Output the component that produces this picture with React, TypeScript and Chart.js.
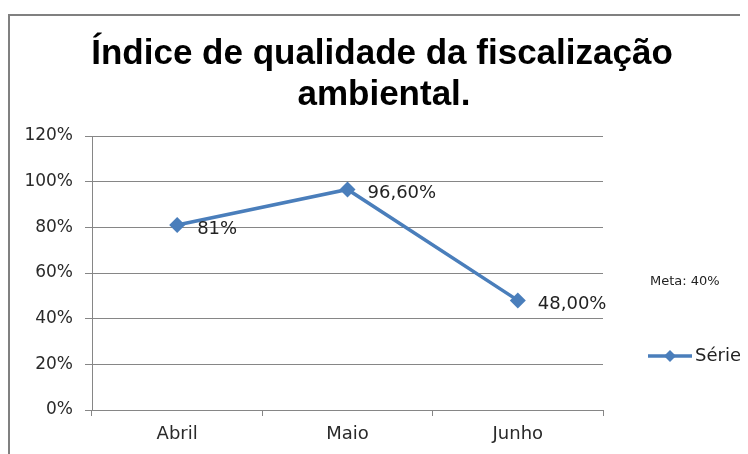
import React, { useEffect, useRef } from "react";
import { Chart, registerables } from "chart.js";

Chart.register(...registerables);

const categories = ["Abril", "Maio", "Junho"];
const values = [0.81, 0.966, 0.48];
const valueLabels = ["81%", "96,60%", "48,00%"];
const seriesName = "Série1";
const titleLines = ["Índice de qualidade da fiscalização", "ambiental."];
const metaText = "Meta: 40%";

const BLUE = "#4a7ebb";
const GRID = "#868686";
const FONT = "'DejaVu Sans', sans-serif";

export default function App() {
  const ref = useRef<HTMLCanvasElement | null>(null);

  useEffect(() => {
    if (!ref.current) return;
    const decor = {
      id: "decor",
      beforeDraw(chart: any) {
        const ctx = chart.ctx;
        ctx.save();
        ctx.fillStyle = "#ffffff";
        ctx.fillRect(0, 0, chart.width, chart.height);
        ctx.strokeStyle = "#808080";
        ctx.lineWidth = 2;
        ctx.beginPath();
        ctx.moveTo(1, chart.height);
        ctx.lineTo(1, 7);
        ctx.lineTo(chart.width, 7);
        ctx.stroke();
        ctx.restore();
      },
      afterDraw(chart: any) {
        const ctx = chart.ctx;
        ctx.save();
        // title
        ctx.fillStyle = "#000000";
        ctx.font = "bold 35px 'Liberation Sans', sans-serif";
        ctx.textAlign = "center";
        ctx.textBaseline = "alphabetic";
        ctx.fillText(titleLines[0], 374, 56);
        ctx.fillText(titleLines[1], 376, 97);
        // meta
        ctx.font = "13px " + FONT;
        ctx.fillStyle = "#222222";
        ctx.textAlign = "left";
        ctx.textBaseline = "middle";
        ctx.fillText(metaText, 642, 274);
        // legend
        const ly = 348;
        ctx.strokeStyle = BLUE;
        ctx.lineWidth = 3.5;
        ctx.beginPath();
        ctx.moveTo(640, ly);
        ctx.lineTo(684, ly);
        ctx.stroke();
        ctx.fillStyle = BLUE;
        ctx.beginPath();
        ctx.moveTo(662, ly - 6);
        ctx.lineTo(668, ly);
        ctx.lineTo(662, ly + 6);
        ctx.lineTo(656, ly);
        ctx.closePath();
        ctx.fill();
        ctx.fillStyle = "#222222";
        ctx.font = "18px " + FONT;
        ctx.fillText(seriesName, 687, ly);
        ctx.restore();
      },
      afterDatasetsDraw(chart: any) {
        const ctx = chart.ctx;
        const meta = chart.getDatasetMeta(0);
        ctx.save();
        ctx.fillStyle = "#222222";
        ctx.font = "18px " + FONT;
        ctx.textAlign = "left";
        ctx.textBaseline = "middle";
        meta.data.forEach((pt: any, i: number) => {
          ctx.fillText(valueLabels[i], pt.x + 20, pt.y + 4);
        });
        ctx.restore();
      },
    };

    const chart = new Chart(ref.current, {
      type: "line",
      data: {
        labels: categories,
        datasets: [
          {
            label: seriesName,
            data: values,
            borderColor: BLUE,
            backgroundColor: BLUE,
            borderWidth: 3.5,
            tension: 0,
            pointStyle: "rectRot",
            pointRadius: 8,
            pointHoverRadius: 8,
            pointBackgroundColor: BLUE,
            pointBorderColor: BLUE,
            pointBorderWidth: 0,
          },
        ],
      },
      options: {
        responsive: false,
        animation: false,
        layout: { padding: { left: 0, right: 145, top: 128, bottom: 0 } },
        plugins: {
          legend: { display: false },
          title: { display: false },
          tooltip: { enabled: false },
        },
        scales: {
          x: {
            type: "category",
            offset: true,
            afterFit: (s: any) => {
              s.height = 44;
            },
            grid: {
              offset: true,
              drawOnChartArea: false,
              drawTicks: true,
              tickLength: 6,
              color: GRID,
            },
            border: { display: true, color: GRID, width: 1 },
            ticks: {
              padding: 8,
              color: "#2a2a2a",
              font: { family: FONT, size: 18 },
            },
          },
          y: {
            min: 0,
            max: 1.2,
            afterFit: (s: any) => {
              s.width = 84;
            },
            grid: {
              color: GRID,
              tickLength: 7,
              drawTicks: true,
            },
            border: { display: true, color: GRID, width: 1 },
            ticks: {
              stepSize: 0.2,
              padding: 12,
              color: "#2a2a2a",
              font: { family: FONT, size: 17 },
              callback: (v: any) => Math.round(Number(v) * 100) + "%",
            },
          },
        },
      },
      plugins: [decor],
    } as any);
    return () => chart.destroy();
  }, []);

  return <canvas ref={ref} width={740} height={446} style={{ display: "block" }} />;
}
